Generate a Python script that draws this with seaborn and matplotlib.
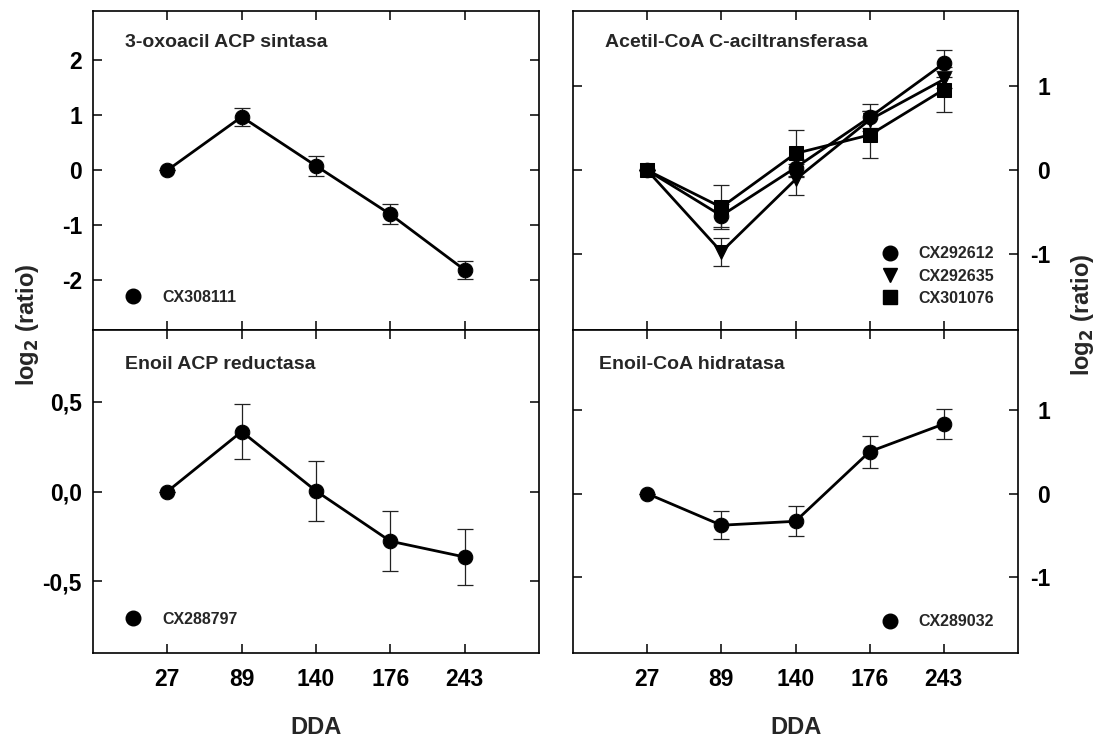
import numpy as np
import pandas as pd
import matplotlib
matplotlib.use("Agg")
import matplotlib.pyplot as plt
import seaborn as sns
from matplotlib.lines import Line2D

# Sampling days (DDA) shown as evenly spaced categories
dda = ["27", "89", "140", "176", "243"]

# 3-oxoacil ACP sintasa
oxo_ids = ["CX308111"]
oxo_mean = [0.0, 0.97, 0.08, -0.80, -1.81]
oxo_err = [0.0, 0.16, 0.18, 0.18, 0.17]

# Acetil-CoA C-aciltransferasa (three clones)
acet_ids = ["CX292612", "CX292635", "CX301076"]
acet_mean_612 = [0.0, -0.54, 0.03, 0.63, 1.27]
acet_err_612 = [0.0, 0.14, 0.10, 0.16, 0.16]
acet_mean_635 = [0.0, -0.97, -0.11, 0.60, 1.08]
acet_err_635 = [0.0, 0.17, 0.19, 0.10, 0.10]
acet_mean_076 = [0.0, -0.44, 0.20, 0.42, 0.96]
acet_err_076 = [0.0, 0.26, 0.28, 0.28, 0.27]

# Enoil ACP reductasa
enacp_ids = ["CX288797"]
enacp_mean = [0.0, 0.334, 0.003, -0.277, -0.365]
enacp_err = [0.0, 0.155, 0.165, 0.166, 0.155]

# Enoil-CoA hidratasa
encoa_ids = ["CX289032"]
encoa_mean = [0.0, -0.377, -0.33, 0.50, 0.83]
encoa_err = [0.0, 0.17, 0.18, 0.19, 0.18]

titles = ["3-oxoacil ACP sintasa", "Acetil-CoA C-aciltransferasa",
          "Enoil ACP reductasa", "Enoil-CoA hidratasa"]

sns.set_style("ticks")
plt.rcParams["font.family"] = ["Liberation Sans", "DejaVu Sans"]
plt.rcParams["font.weight"] = "bold"
plt.rcParams["axes.labelweight"] = "bold"

fig = plt.figure(figsize=(11.01, 7.38), dpi=100)

W, H = 1101.0, 738.0
xl = [93, 539]
xr = [573, 1018]
yt = [10.5, 330]
yb = [330, 653]


def make_ax(xs, ys):
    return fig.add_axes([xs[0] / W, 1 - ys[1] / H, (xs[1] - xs[0]) / W,
                         (ys[1] - ys[0]) / H])


ax_tl = make_ax(xl, yt)
ax_tr = make_ax(xr, yt)
ax_bl = make_ax(xl, yb)
ax_br = make_ax(xr, yb)

pos = np.arange(len(dda))
marker_map = {acet_ids[0]: "o", acet_ids[1]: "v", acet_ids[2]: "s"}
MS = 10.5
LW = 2.0
TICK_FS = 16.5


def draw_series(ax, mean, err, marker):
    ax.errorbar(pos, mean, yerr=err, fmt="none", ecolor="#222222",
                elinewidth=0.9, capsize=6, capthick=0.9, zorder=2)
    sns.lineplot(x=pos, y=mean, ax=ax, color="black", lw=LW, marker=marker,
                 markersize=MS, markeredgecolor="black", legend=False,
                 zorder=3)


draw_series(ax_tl, oxo_mean, oxo_err, "o")
draw_series(ax_bl, enacp_mean, enacp_err, "o")
draw_series(ax_br, encoa_mean, encoa_err, "o")

acet_df = pd.DataFrame({
    "pos": np.tile(pos, 3),
    "log2": acet_mean_612 + acet_mean_635 + acet_mean_076,
    "err": acet_err_612 + acet_err_635 + acet_err_076,
    "clon": np.repeat(acet_ids, len(dda)),
})
for cid, g in acet_df.groupby("clon"):
    ax_tr.errorbar(g["pos"], g["log2"], yerr=g["err"], fmt="none",
                   ecolor="#222222", elinewidth=0.9, capsize=6,
                   capthick=0.9, zorder=2)
sns.lineplot(data=acet_df, x="pos", y="log2", style="clon",
             markers=marker_map, dashes=False, color="black", lw=LW,
             markersize=MS, markeredgecolor="black", ax=ax_tr, legend=False,
             zorder=3)

ylims = {ax_tl: (-2.9, 2.9), ax_tr: (-1.9, 1.9),
         ax_bl: (-0.9, 0.9), ax_br: (-1.9, 1.95)}
yticks = {ax_tl: ([-2, -1, 0, 1, 2], ["-2", "-1", "0", "1", "2"]),
          ax_tr: ([-1, 0, 1], ["-1", "0", "1"]),
          ax_bl: ([-0.5, 0, 0.5], ["-0,5", "0,0", "0,5"]),
          ax_br: ([-1, 0, 1], ["-1", "0", "1"])}

for ax, title in zip([ax_tl, ax_tr, ax_bl, ax_br], titles):
    ax.set_xlim(-1, 5)
    ax.set_ylim(*ylims[ax])
    ax.set_xticks(pos)
    ax.set_xticklabels(dda)
    ax.set_yticks(yticks[ax][0])
    ax.set_yticklabels(yticks[ax][1])
    ax.set_xlabel("")
    ax.set_ylabel("")
    for sp in ax.spines.values():
        sp.set_visible(True)
        sp.set_linewidth(1.2)
        sp.set_color("black")
    ax.tick_params(direction="in", length=6.5, width=1.1, top=True,
                   right=True, bottom=True, left=True, labelsize=TICK_FS,
                   colors="black")
    ax.tick_params(axis="x", pad=11)
    ax.text(0.072 if ax in (ax_tl, ax_bl, ax_tr) else 0.059,
            0.887 if ax in (ax_tl, ax_tr) else 0.878, title,
            transform=ax.transAxes, fontsize=14, fontweight="bold",
            va="baseline", ha="left")

for ax in (ax_tl, ax_tr):
    ax.tick_params(labelbottom=False)
for ax in (ax_tr, ax_br):
    ax.tick_params(labelleft=False, labelright=True, axis="y", pad=23)
    for lab in ax.get_yticklabels():
        lab.set_ha("right")
for ax in (ax_tl, ax_bl):
    ax.tick_params(axis="y", pad=8)
for ax in (ax_bl, ax_br):
    ax.set_xlabel("DDA", fontsize=17, fontweight="bold", labelpad=18)


def add_legend(ax, ids, markers, anchor):
    handles = [Line2D([], [], ls="none", marker=m, color="black",
                      markersize=MS) for m in markers]
    ax.legend(handles, ids, loc="center left", bbox_to_anchor=anchor,
              frameon=False, handlelength=1.4, handletextpad=1.11,
              borderpad=0, borderaxespad=0, labelspacing=0.44,
              prop={"weight": "bold", "size": 11.5})


add_legend(ax_tl, oxo_ids, ["o"], (0.0646, 0.103))
add_legend(ax_tr, acet_ids, ["o", "v", "s"], (0.687, 0.169))
add_legend(ax_bl, enacp_ids, ["o"], (0.0646, 0.105))
add_legend(ax_br, encoa_ids, ["o"], (0.687, 0.097))

fig.text(0.025, 0.56, r"log$_\mathbf{2}$ (ratio)", rotation=90, fontsize=17,
         fontweight="bold", ha="center", va="center")
fig.text(0.983, 0.573, r"log$_\mathbf{2}$ (ratio)", rotation=90, fontsize=17,
         fontweight="bold", ha="center", va="center")

fig.savefig("out.png", dpi=100)
